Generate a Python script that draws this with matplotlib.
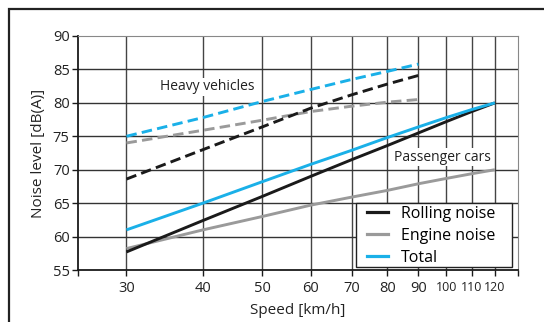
import numpy as np
import matplotlib
matplotlib.use("Agg")
from matplotlib import pyplot as plt
from matplotlib.patches import Rectangle
from matplotlib.lines import Line2D

plt.rcParams["font.family"] = ["Open Sans", "DejaVu Sans"]

# heavy vehicles (dashed), 30-90 km/h
heavy_speed = [30, 40, 50, 60, 70, 80, 90]
heavy_rolling = [68.6, 73.0, 76.4, 79.2, 81.2, 82.8, 84.1]
heavy_engine = [74.0, 75.9, 77.4, 78.7, 79.5, 80.1, 80.5]
heavy_total = [75.0, 77.8, 80.2, 82.0, 83.5, 84.7, 85.8]

# passenger cars (solid), 30-120 km/h
car_speed = [30, 40, 50, 60, 70, 80, 90, 100, 110, 120]
car_rolling = [57.7, 62.4, 66.0, 69.0, 71.5, 73.6, 75.5, 77.2, 78.7, 80.0]
car_engine = [58.2, 61.0, 63.0, 64.7, 65.9, 66.9, 67.9, 68.7, 69.4, 70.0]
car_total = [61.0, 65.0, 68.2, 70.8, 72.9, 74.8, 76.4, 77.8, 79.0, 80.0]

x_ticks = [30, 40, 50, 60, 70, 80, 90, 100, 110, 120]
y_ticks = [55, 60, 65, 70, 75, 80, 85, 90]

BLACK = "#1a1a1a"
GRAY = "#9a9a9a"
BLUE = "#1ab0e8"
TEXT = "#222222"
DASH = (0, (3.6, 1.8))

fig = plt.figure(figsize=(5.44, 3.22), dpi=100)
ax = fig.add_axes([78 / 544, 1 - 270 / 322, 440 / 544, 234 / 322])

ax.set_xscale("log")
ax.set_xlim(25, 130.9)
ax.set_ylim(55, 90)

for x in x_ticks:
    ax.axvline(x, color="#444444", lw=1.0, zorder=1)
for y in y_ticks[1:-1]:
    ax.axhline(y, color="#333333", lw=1.0, zorder=1)

ax.plot(car_speed, car_engine, color=GRAY, lw=2.1, zorder=3, solid_capstyle="butt")
ax.plot(car_speed, car_rolling, color=BLACK, lw=2.1, zorder=3, solid_capstyle="butt")
ax.plot(car_speed, car_total, color=BLUE, lw=2.1, zorder=4, solid_capstyle="butt")
ax.plot(heavy_speed, heavy_engine, color=GRAY, lw=2.1, ls=DASH, zorder=3)
ax.plot(heavy_speed, heavy_rolling, color=BLACK, lw=2.1, ls=DASH, zorder=3)
ax.plot(heavy_speed, heavy_total, color=BLUE, lw=2.1, ls=DASH, zorder=4)

box = dict(facecolor="white", edgecolor="none", pad=1.0)
ax.text(40.6, 82.4, "Heavy vehicles", fontsize=10, ha="center", va="center",
        color=TEXT, bbox=box, zorder=5)
ax.text(98.4, 71.9, "Passenger cars", fontsize=10, ha="center", va="center",
        color=TEXT, bbox=box, zorder=5)

ax.xaxis.set_minor_locator(matplotlib.ticker.NullLocator())
ax.set_xticks([25] + x_ticks + [130.9])
ax.set_xticklabels([""] + [str(v) for v in x_ticks] + [""])
for lbl in ax.get_xticklabels():
    if lbl.get_text() in ("100", "110", "120"):
        lbl.set_fontsize(9)
    else:
        lbl.set_fontsize(10.5)
ax.set_yticks(y_ticks)
ax.set_yticklabels([str(v) for v in y_ticks], fontsize=10.5)
ax.tick_params(axis="both", direction="out", length=4, width=1, color=BLACK,
               labelcolor=TEXT)
ax.tick_params(axis="x", pad=4)
ax.tick_params(axis="y", pad=2)

ax.spines["left"].set_color(BLACK)
ax.spines["bottom"].set_color(BLACK)
ax.spines["left"].set_linewidth(1.3)
ax.spines["bottom"].set_linewidth(1.3)
ax.spines["top"].set_color("#888888")
ax.spines["right"].set_color("#888888")

ax.set_xlabel("Speed [km/h]", fontsize=11, color=TEXT, labelpad=5)
ax.set_ylabel("Noise level [dB(A)]", fontsize=11, color=TEXT, labelpad=5)

# legend box drawn separately so the padding can differ per side
ax.add_patch(Rectangle((356 / 544, 1 - 267 / 322), 156 / 544, 64 / 322,
                       transform=fig.transFigure, facecolor="white",
                       edgecolor=TEXT, lw=1.0, zorder=5.5, clip_on=False))
handles = [
    Line2D([], [], color=BLACK, lw=2.3),
    Line2D([], [], color=GRAY, lw=2.3),
    Line2D([], [], color=BLUE, lw=2.3),
]
leg = ax.legend(handles, ["Rolling noise", "Engine noise", "Total"],
                loc="upper left", bbox_to_anchor=(367 / 544, 1 - 206 / 322),
                bbox_transform=fig.transFigure, fontsize=11.5, frameon=False,
                handlelength=1.3, handletextpad=0.8,
                labelspacing=0.36, borderpad=0.0, borderaxespad=0)
leg.set_zorder(6)

fig.add_artist(Rectangle((9 / 544, -0.1), 1.2, 1 - 9 / 322 + 0.1,
                         transform=fig.transFigure, fill=False,
                         edgecolor=TEXT, lw=1.6))

plt.savefig("out.png", dpi=100)
